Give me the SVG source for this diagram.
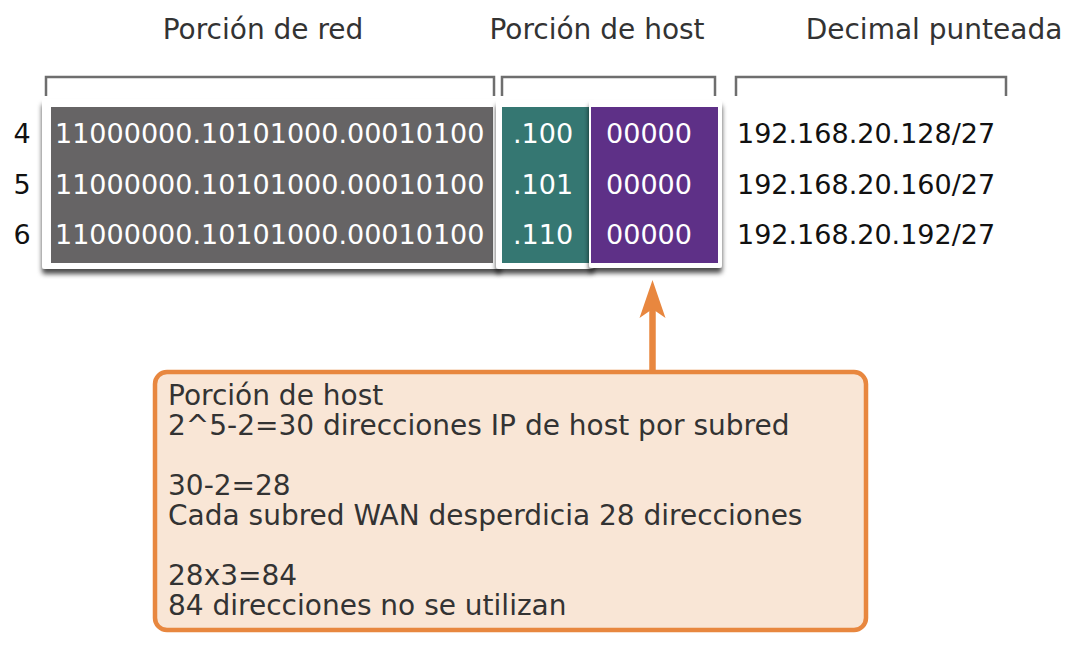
<svg xmlns="http://www.w3.org/2000/svg" width="1076" height="646" viewBox="0 0 1076 646">
<defs>
<style>
.hdr{font-family:"DejaVu Sans","Liberation Sans",sans-serif;font-size:28px;fill:#333333;text-anchor:middle}
.row{font-family:"DejaVu Sans","Liberation Sans",sans-serif;font-size:27px;fill:#ffffff}
.blk{font-family:"DejaVu Sans","Liberation Sans",sans-serif;font-size:27px;fill:#111111}
.box{font-family:"DejaVu Sans","Liberation Sans",sans-serif;font-size:28px;fill:#333333}
.brk{fill:none;stroke:#6e6e6e;stroke-width:2.5}
.card{fill:#ffffff;filter:url(#sh)}
.arrow{fill:#E8873F}
</style>
<filter id="sh" x="-5%" y="-10%" width="110%" height="130%">
<feDropShadow dx="0" dy="5" stdDeviation="2.5" flood-color="#000" flood-opacity="0.7"/>
</filter>
</defs>
<rect width="1076" height="646" fill="#ffffff"/>

<g id="headers">
<text class="hdr" x="263" y="39">Porción de red</text>
<text class="hdr" x="597" y="39">Porción de host</text>
<text class="hdr" x="934" y="39">Decimal punteada</text>
</g>

<g id="brackets">
<path class="brk" d="M46 96 V77 H494 V96"/>
<path class="brk" d="M502 96 V77 H715 V96"/>
<path class="brk" d="M736 96 V77 H1006 V96"/>
</g>

<g id="network-card">
<rect class="card" x="42" y="99" width="459" height="170" rx="3"/>
<rect x="51" y="107" width="442" height="156" fill="#666465"/>
<text class="row" x="55" y="143">11000000.10101000.00010100</text>
<text class="row" x="55" y="194">11000000.10101000.00010100</text>
<text class="row" x="55" y="244">11000000.10101000.00010100</text>
</g>

<g id="subnet-card">
<rect class="card" x="496" y="100" width="98" height="169" rx="3"/>
<rect x="502" y="107" width="87" height="156" fill="#357772"/>
<text class="row" x="513" y="143">.100</text>
<text class="row" x="513" y="194">.101</text>
<text class="row" x="513" y="244">.110</text>
</g>

<g id="host-card">
<rect class="card" x="589" y="100" width="133" height="168" rx="3"/>
<rect x="591" y="107" width="127" height="156" fill="#5E3087"/>
<text class="row" x="649" y="143" text-anchor="middle">00000</text>
<text class="row" x="649" y="194" text-anchor="middle">00000</text>
<text class="row" x="649" y="244" text-anchor="middle">00000</text>
</g>

<g id="row-numbers">
<text class="blk" x="22" y="143" text-anchor="middle">4</text>
<text class="blk" x="22" y="194" text-anchor="middle">5</text>
<text class="blk" x="22" y="244" text-anchor="middle">6</text>
</g>

<g id="dotted-decimal">
<text class="blk" x="737" y="143">192.168.20.128/27</text>
<text class="blk" x="737" y="194">192.168.20.160/27</text>
<text class="blk" x="737" y="244">192.168.20.192/27</text>
</g>

<g id="connectors">
<line x1="652.5" y1="371" x2="652.5" y2="300" stroke="#E8873F" stroke-width="6.5"/>
<path class="arrow" d="M652.5 280 L665.5 318 L652.5 309 L639.5 318 Z"/>
</g>

<g id="note">
<rect x="155" y="372" width="711" height="258" rx="12" fill="#F9E6D6" stroke="#E8873F" stroke-width="4.5"/>
<text class="box" x="168" y="405">Porción de host</text>
<text class="box" x="168" y="435">2^5-2=30 direcciones IP de host por subred</text>
<text class="box" x="168" y="495">30-2=28</text>
<text class="box" x="168" y="525">Cada subred WAN desperdicia 28 direcciones</text>
<text class="box" x="168" y="585">28x3=84</text>
<text class="box" x="168" y="615">84 direcciones no se utilizan</text>
</g>
</svg>
